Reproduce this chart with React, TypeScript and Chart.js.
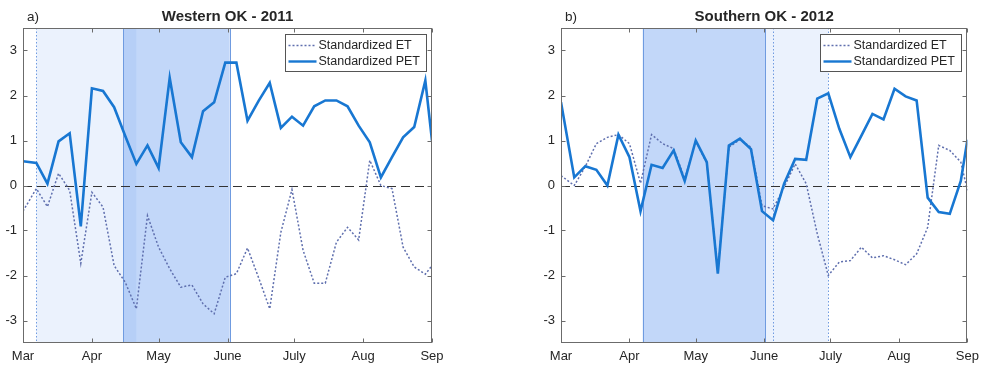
import React, { useEffect, useRef } from "react";
import { Chart, registerables } from "chart.js";
Chart.register(...registerables);

// days since 1 March (pentad dates)
const days = [0, 6, 11, 16, 21, 26, 31, 36, 41, 46, 51, 56, 61, 66, 71, 76, 81, 86, 91, 96, 101, 106, 111, 116, 121, 126, 131, 136, 141, 146, 151, 156, 161, 166, 171, 176, 181, 184];
const monthTickDays = [0, 31, 61, 92, 122, 153, 184];
const monthLabels = ["Mar", "Apr", "May", "June", "July", "Aug", "Sep"];
const yTicks = [-3, -2, -1, 0, 1, 2, 3];

const westPET = [0.54, 0.5, 0.04, 0.98, 1.16, -0.91, 2.16, 2.1, 1.74, 1.1, 0.48, 0.89, 0.39, 2.39, 0.96, 0.63, 1.65, 1.85, 2.73, 2.73, 1.44, 1.88, 2.28, 1.28, 1.53, 1.33, 1.76, 1.89, 1.89, 1.76, 1.33, 0.96, 0.18, 0.63, 1.07, 1.3, 2.33, 1.0];
const westET = [-0.57, -0.07, -0.47, 0.27, -0.11, -1.73, -0.15, -0.48, -1.78, -2.15, -2.74, -0.67, -1.37, -1.85, -2.26, -2.21, -2.63, -2.85, -2.04, -1.96, -1.39, -2.05, -2.74, -1.04, -0.09, -1.44, -2.17, -2.17, -1.26, -0.93, -1.21, 0.56, 0.0, -0.07, -1.37, -1.81, -1.97, -1.78];

const southPET = [1.85, 0.18, 0.43, 0.35, 0.0, 1.13, 0.63, -0.57, 0.46, 0.39, 0.78, 0.1, 1.0, 0.52, -1.96, 0.89, 1.04, 0.81, -0.57, -0.77, 0.04, 0.59, 0.57, 1.93, 2.05, 1.26, 0.63, 1.11, 1.59, 1.47, 2.15, 1.98, 1.89, -0.27, -0.59, -0.63, 0.1, 1.02];
const southET = [0.22, 0.0, 0.42, 0.93, 1.07, 1.13, 0.93, 0.05, 1.13, 0.93, 0.82, 0.15, 0.98, 0.5, -1.9, 0.85, 1.02, 0.85, -0.45, -0.52, -0.04, 0.48, 0.04, -1.07, -2.0, -1.7, -1.67, -1.37, -1.61, -1.56, -1.65, -1.76, -1.52, -0.93, 0.89, 0.78, 0.52, -0.11];

// shaded periods, days since 1 March: [start, end]
const westLight = [6, 51];
const westDark = [45, 93];
const southDark = [37, 92.5];
const southLight = [92.5, 121];
const southLightEdges = [96, 121];

const FONT = '"Liberation Sans", Arial, Helvetica, sans-serif';
const TEXT = "#262626";
const AXIS = "#6b6b6b";
const LIGHT_FILL = "rgba(120,165,240,0.15)";
const DARK_FILL = "rgba(110,160,240,0.42)";
const EDGE = "#6f9be0";
const PET_COLOR = "#1877d2";
const ET_COLOR = "#5f6fae";

type Shade = { start: number; end: number; fill: string };
type Edge = { day: number; dotted: boolean };

type PanelProps = {
  left: number;
  width: number;
  padRight: number;
  label: string;
  title: string;
  pet: number[];
  et: number[];
  shades: Shade[];
  edges: Edge[];
};

function Panel(p: PanelProps) {
  const ref = useRef<HTMLCanvasElement | null>(null);
  useEffect(() => {
    const canvas = ref.current!;
    const plugin = {
      id: "matlabStyle",
      beforeDatasetsDraw(chart: any) {
        const { ctx, chartArea: a, scales } = chart;
        const xs = scales.x;
        const ys = scales.y;
        ctx.save();
        ctx.beginPath();
        ctx.rect(a.left, a.top, a.right - a.left, a.bottom - a.top);
        ctx.clip();
        for (const s of p.shades) {
          const x0 = xs.getPixelForValue(s.start);
          const x1 = xs.getPixelForValue(s.end);
          ctx.fillStyle = s.fill;
          ctx.fillRect(x0, a.top, x1 - x0, a.bottom - a.top);
        }
        for (const e of p.edges) {
          const x = Math.round(xs.getPixelForValue(e.day)) + 0.5;
          ctx.beginPath();
          ctx.strokeStyle = EDGE;
          ctx.lineWidth = 1;
          ctx.setLineDash(e.dotted ? [1.5, 2] : []);
          ctx.moveTo(x, a.top);
          ctx.lineTo(x, a.bottom);
          ctx.stroke();
        }
        // zero line
        const y0 = Math.round(ys.getPixelForValue(0)) + 0.5;
        ctx.beginPath();
        ctx.setLineDash([9, 5]);
        ctx.strokeStyle = "#333333";
        ctx.lineWidth = 1;
        ctx.moveTo(a.left, y0);
        ctx.lineTo(a.right, y0);
        ctx.stroke();
        ctx.restore();
      },
      afterDatasetsDraw(chart: any) {
        const { ctx, chartArea: a, scales } = chart;
        const xs = scales.x;
        const ys = scales.y;
        ctx.save();
        ctx.setLineDash([]);
        // box
        ctx.strokeStyle = AXIS;
        ctx.lineWidth = 1;
        const L = Math.round(a.left) + 0.5;
        const R = Math.round(a.right) - 0.5;
        const T = Math.round(a.top) + 0.5;
        const B = Math.round(a.bottom) - 0.5;
        ctx.strokeRect(L, T, R - L, B - T);
        // inward ticks
        const tl = 4;
        ctx.beginPath();
        for (const v of yTicks) {
          const y = Math.round(ys.getPixelForValue(v)) + 0.5;
          ctx.moveTo(L, y); ctx.lineTo(L + tl, y);
          ctx.moveTo(R, y); ctx.lineTo(R - tl, y);
        }
        for (const d of monthTickDays) {
          const x = Math.round(xs.getPixelForValue(d)) + 0.5;
          ctx.moveTo(x, B); ctx.lineTo(x, B - tl);
          ctx.moveTo(x, T); ctx.lineTo(x, T + tl);
        }
        ctx.stroke();
        // legend
        const lw = 141, lh = 37;
        const lx = Math.round(a.right) - 6 - lw + 0.5;
        const ly = Math.round(a.top) + 6 + 0.5;
        ctx.fillStyle = "#ffffff";
        ctx.fillRect(lx, ly, lw, lh);
        ctx.strokeStyle = "#555555";
        ctx.strokeRect(lx, ly, lw, lh);
        const r1 = ly + 11, r2 = ly + 27;
        ctx.beginPath();
        ctx.strokeStyle = ET_COLOR;
        ctx.lineWidth = 1.5;
        ctx.setLineDash([2, 2]);
        ctx.moveTo(lx + 3, r1); ctx.lineTo(lx + 31, r1);
        ctx.stroke();
        ctx.beginPath();
        ctx.setLineDash([]);
        ctx.strokeStyle = PET_COLOR;
        ctx.lineWidth = 2.4;
        ctx.moveTo(lx + 3, r2); ctx.lineTo(lx + 31, r2);
        ctx.stroke();
        ctx.fillStyle = TEXT;
        ctx.font = `12.5px ${FONT}`;
        ctx.textAlign = "left";
        ctx.textBaseline = "middle";
        ctx.fillText("Standardized ET", lx + 33, r1);
        ctx.fillText("Standardized PET", lx + 33, r2);
        // titles
        ctx.font = `bold 15px ${FONT}`;
        ctx.textAlign = "center";
        ctx.textBaseline = "middle";
        ctx.fillText(p.title, (a.left + a.right) / 2, 17);
        ctx.font = `13.5px ${FONT}`;
        ctx.textAlign = "left";
        ctx.fillText(p.label, a.left + 4, 17);
        ctx.restore();
      },
    };
    const chart = new Chart(canvas, {
      type: "line",
      data: {
        datasets: [
          {
            label: "Standardized PET",
            data: days.map((d, i) => ({ x: d, y: p.pet[i] })),
            borderColor: PET_COLOR,
            borderWidth: 2.6,
            pointRadius: 0,
            tension: 0,
            fill: false,
          },
          {
            label: "Standardized ET",
            data: days.map((d, i) => ({ x: d, y: p.et[i] })),
            borderColor: ET_COLOR,
            borderWidth: 1.5,
            borderDash: [2, 2],
            pointRadius: 0,
            tension: 0,
            fill: false,
          },
        ],
      },
      options: {
        animation: false,
        responsive: false,
        maintainAspectRatio: false,
        layout: { padding: { top: 28, right: p.padRight, left: 0, bottom: 0 } },
        plugins: {
          legend: { display: false },
          tooltip: { enabled: false },
          title: { display: false },
        },
        scales: {
          x: {
            type: "linear",
            min: 0,
            max: 184,
            grid: { display: false, drawTicks: false },
            border: { display: false },
            afterBuildTicks: (s: any) => {
              s.ticks = monthTickDays.map((v) => ({ value: v }));
            },
            afterFit: (s: any) => {
              s.height = 24;
            },
            ticks: {
              autoSkip: false,
              maxRotation: 0,
              minRotation: 0,
              padding: 6,
              color: TEXT,
              font: { family: FONT, size: 13 },
              callback: (v: any) => {
                const i = monthTickDays.indexOf(Number(v));
                return i >= 0 ? monthLabels[i] : "";
              },
            },
          },
          y: {
            type: "linear",
            min: -3.5,
            max: 3.5,
            grid: { display: false, drawTicks: false },
            border: { display: false },
            afterBuildTicks: (s: any) => {
              s.ticks = yTicks.map((v) => ({ value: v }));
            },
            afterFit: (s: any) => {
              s.width = 23;
            },
            ticks: {
              padding: 6,
              color: TEXT,
              font: { family: FONT, size: 13 },
              callback: (v: any) => String(v),
            },
          },
        },
      },
      plugins: [plugin],
    } as any);
    return () => chart.destroy();
  }, []);
  return (
    <canvas
      ref={ref}
      width={p.width}
      height={367}
      style={{ position: "absolute", left: p.left, top: 0, width: p.width, height: 367 }}
    />
  );
}

export default function App() {
  return (
    <div style={{ position: "fixed", left: 0, top: 0, width: 985, height: 367, background: "#ffffff" }}>
      <Panel
        left={0}
        width={470}
        padRight={38}
        label="a)"
        title="Western OK - 2011"
        pet={westPET}
        et={westET}
        shades={[
          { start: westLight[0], end: westLight[1], fill: LIGHT_FILL },
          { start: westDark[0], end: westDark[1], fill: DARK_FILL },
        ]}
        edges={[
          { day: westLight[0], dotted: true },
          { day: westDark[0], dotted: false },
          { day: westDark[1], dotted: false },
        ]}
      />
      <Panel
        left={538}
        width={447}
        padRight={14}
        label="b)"
        title="Southern OK - 2012"
        pet={southPET}
        et={southET}
        shades={[
          { start: southDark[0], end: southDark[1], fill: DARK_FILL },
          { start: southLight[0], end: southLight[1], fill: LIGHT_FILL },
        ]}
        edges={[
          { day: southDark[0], dotted: false },
          { day: southDark[1], dotted: false },
          { day: southLightEdges[0], dotted: true },
          { day: southLightEdges[1], dotted: true },
        ]}
      />
    </div>
  );
}
